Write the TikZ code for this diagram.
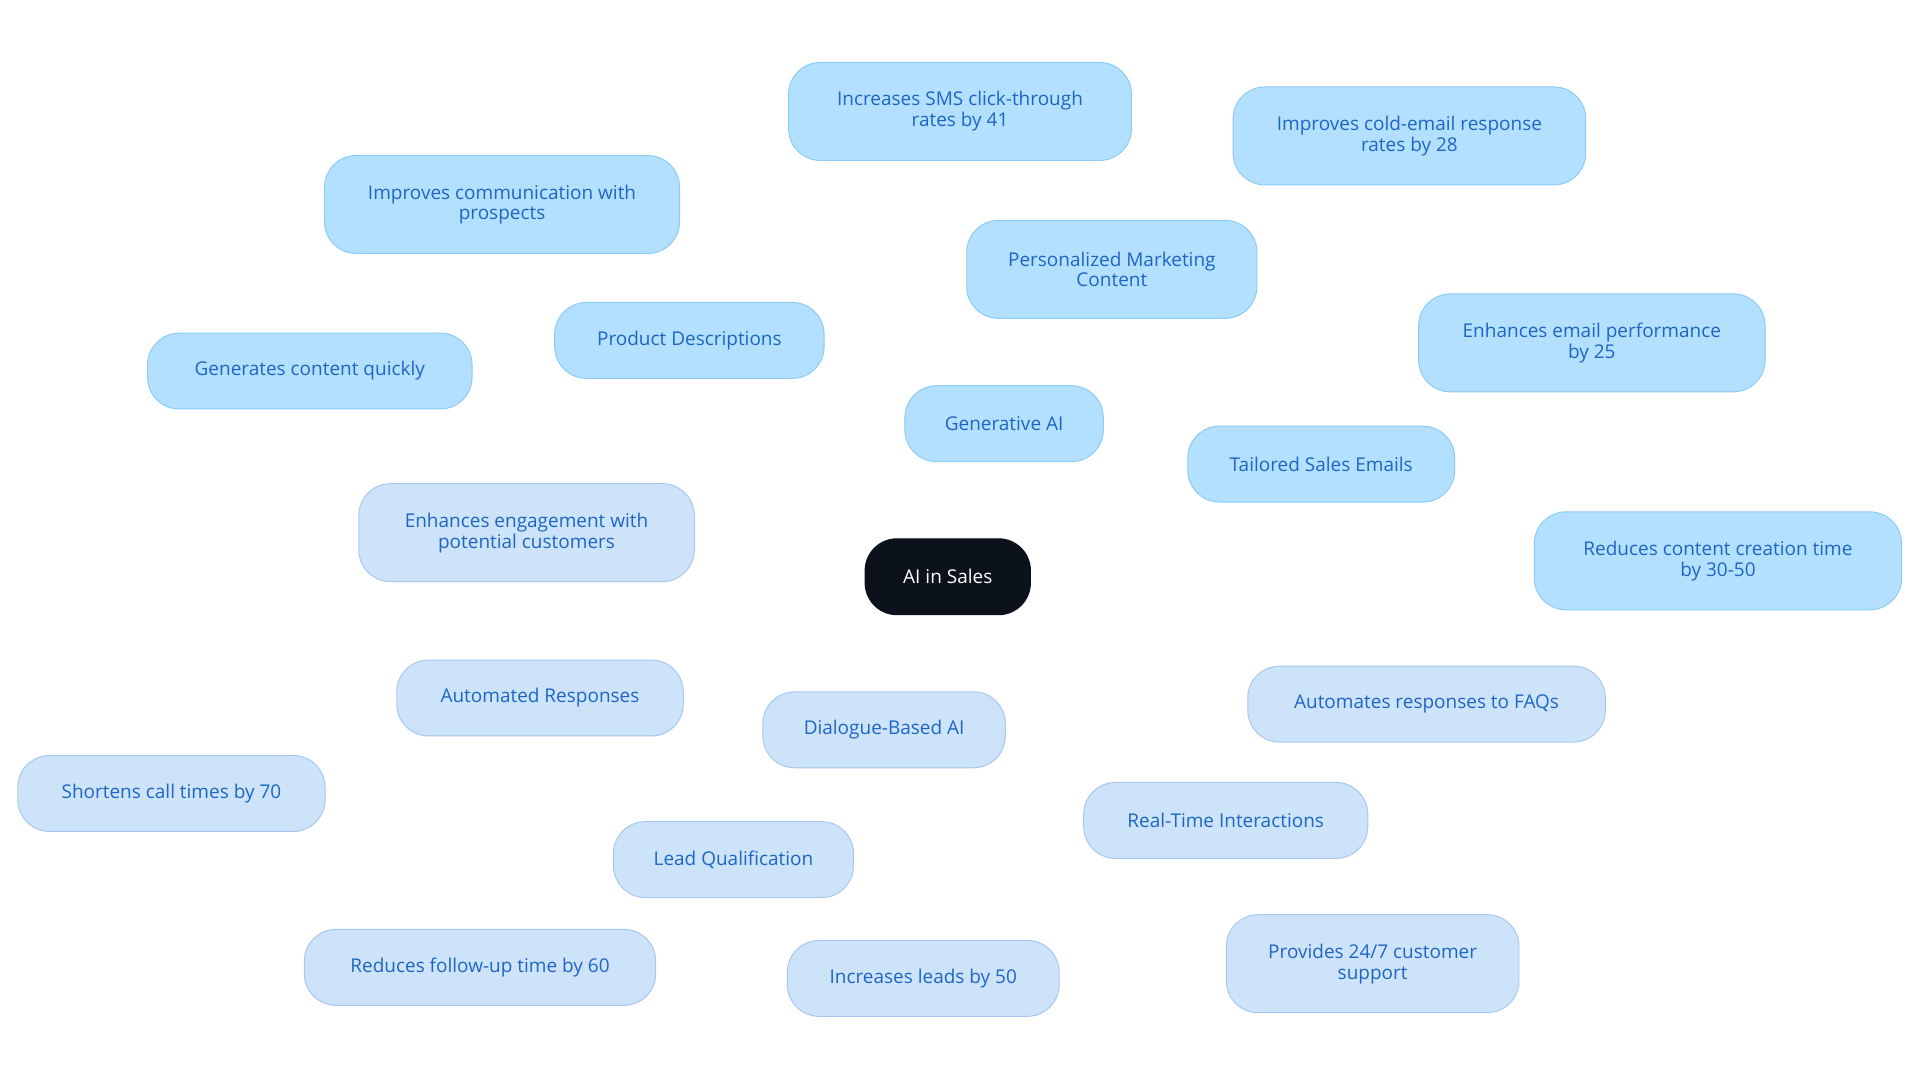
\documentclass[tikz,border=0pt]{standalone}
\usepackage{fontspec}
\setmainfont{Open Sans}
\usetikzlibrary{backgrounds}
\definecolor{gfill}{HTML}{B3E0FF}
\definecolor{gdraw}{HTML}{8CCBF5}
\definecolor{dfill}{HTML}{CDE3FA}
\definecolor{ddraw}{HTML}{A6C8F0}
\definecolor{txt}{HTML}{1E66C4}
\definecolor{gline}{HTML}{7ABDEB}
\definecolor{dline}{HTML}{92B9E8}
\definecolor{root}{HTML}{0C121C}
\tikzset{
 base/.style={rounded corners=26pt, text=txt, font=\fontsize{15.5}{17}\selectfont, align=center, inner sep=0pt, line width=0.8pt},
 gnode/.style={base, fill=gfill, draw=gdraw},
 dnode/.style={base, fill=dfill, draw=ddraw},
 gedge/.style={draw=gline, line width=2pt},
 dedge/.style={draw=dline, line width=2pt},
}
\newcommand{\bx}[6]{\node[#1, minimum width=#4pt, minimum height=#5pt] (#2) at (#3) {#6};}
\begin{document}
\begin{tikzpicture}[x=1pt,y=-1pt]
\useasboundingbox[fill=white] (0,0) rectangle (1568,884);
\node[base, fill=root, draw=root, text=white, minimum width=135pt, minimum height=62pt] (root) at (774,471) {AI in Sales};
\bx{gnode}{gen}{820,346}{162}{62}{Generative AI}
\bx{gnode}{pmc}{908,220}{237}{80}{Personalized Marketing\\Content}
\bx{gnode}{sms}{784,91}{280}{80}{Increases SMS click-through\\rates by 41}
\bx{gnode}{cold}{1151,111}{288}{80}{Improves cold-email response\\rates by 28}
\bx{gnode}{pd}{563,278}{220}{62}{Product Descriptions}
\bx{gnode}{comm}{410,167}{290}{80}{Improves communication with\\prospects}
\bx{gnode}{quick}{253,303}{265}{62}{Generates content quickly}
\bx{gnode}{tse}{1079,379}{218}{62}{Tailored Sales Emails}
\bx{gnode}{perf}{1300,280}{283}{80}{Enhances email performance\\by 25}
\bx{gnode}{red}{1403,458}{300}{80}{Reduces content creation time\\by 30-50}
\bx{dnode}{dia}{722,596}{198}{62}{Dialogue-Based AI}
\bx{dnode}{auto}{441,570}{234}{62}{Automated Responses}
\bx{dnode}{eng}{430,435}{274}{80}{Enhances engagement with\\potential customers}
\bx{dnode}{call}{140,648}{251}{62}{Shortens call times by 70}
\bx{dnode}{lead}{599,702}{196}{62}{Lead Qualification}
\bx{dnode}{fup}{392,790}{287}{62}{Reduces follow-up time by 60}
\bx{dnode}{incl}{754,799}{222}{62}{Increases leads by 50}
\bx{dnode}{rti}{1001,670}{232}{62}{Real-Time Interactions}
\bx{dnode}{faq}{1165,575}{292}{62}{Automates responses to FAQs}
\bx{dnode}{sup}{1121,787}{239}{80}{Provides 24/7 customer\\support}
\begin{scope}[on background layer]
\draw[gedge] (root.center) -- (gen.center);
\draw[gedge] (gen.center) -- (pmc.center);
\draw[gedge] (pmc.center) -- (sms.center);
\draw[gedge] (pmc.center) -- (cold.center);
\draw[gedge] (gen.center) -- (pd.center);
\draw[gedge] (pd.center) -- (comm.center);
\draw[gedge] (pd.center) -- (quick.center);
\draw[gedge] (gen.center) -- (tse.center);
\draw[gedge] (tse.center) -- (perf.center);
\draw[gedge] (tse.center) -- (red.center);
\draw[dedge] (root.center) -- (dia.center);
\draw[dedge] (dia.center) -- (auto.center);
\draw[dedge] (auto.center) -- (eng.center);
\draw[dedge] (auto.center) -- (call.center);
\draw[dedge] (dia.center) -- (lead.center);
\draw[dedge] (lead.center) -- (fup.center);
\draw[dedge] (lead.center) -- (incl.center);
\draw[dedge] (dia.center) -- (rti.center);
\draw[dedge] (rti.center) -- (faq.center);
\draw[dedge] (rti.center) -- (sup.center);
\end{scope}
\end{tikzpicture}
\end{document}
